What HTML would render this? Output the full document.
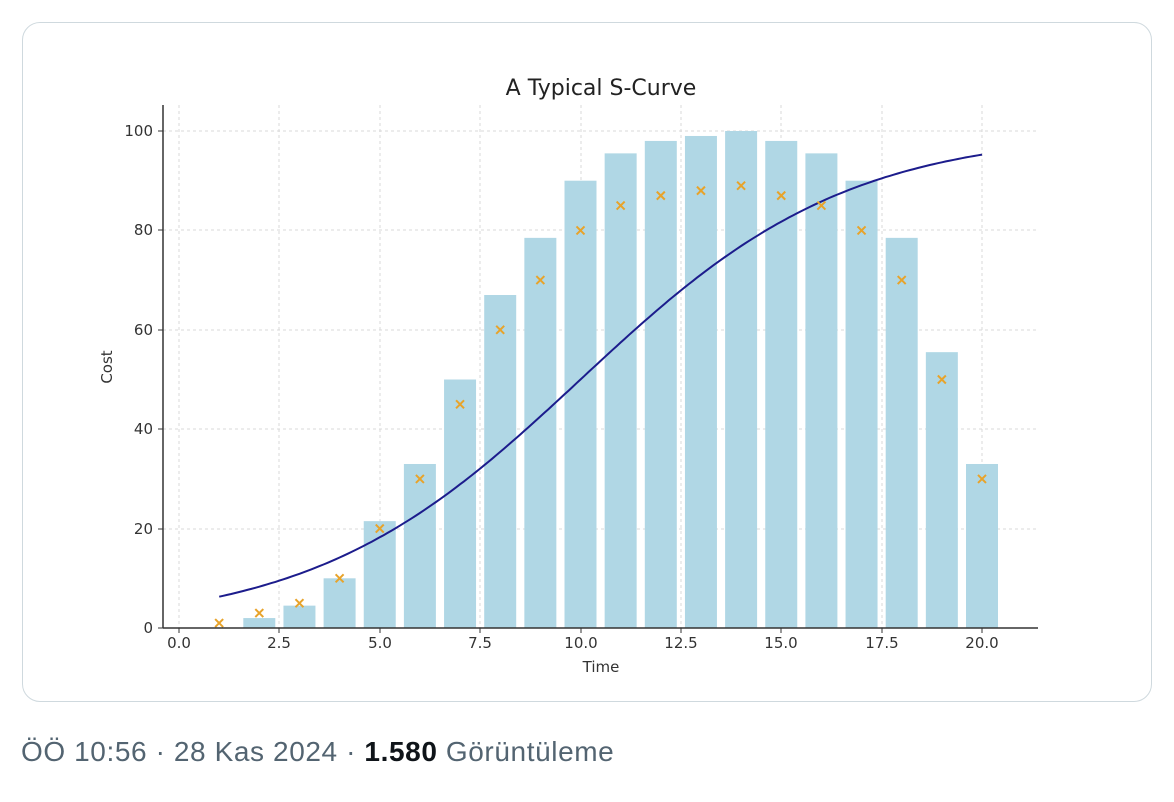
<!DOCTYPE html>
<html><head><meta charset="utf-8"><style>
body{margin:0;background:#fff;width:1174px;height:802px;overflow:hidden;font-family:"Liberation Sans",sans-serif}
.card{position:absolute;left:22px;top:22px;width:1130px;height:680px;border:1px solid #cfd9de;border-radius:18px;box-sizing:border-box}
.foot{position:absolute;left:21px;top:736px;font-size:28px;color:#536471;letter-spacing:0.6px}
.foot b{color:#0f1419}
</style></head><body>
<div class="card"></div>
<svg style="position:absolute;left:0;top:0" width="1174" height="802" font-family="DejaVu Sans, sans-serif">
<g stroke="#d8d8d8" stroke-dasharray="3,3" stroke-width="1">
<line x1="179" y1="105" x2="179" y2="628"/><line x1="279" y1="105" x2="279" y2="628"/><line x1="380" y1="105" x2="380" y2="628"/><line x1="480" y1="105" x2="480" y2="628"/><line x1="581" y1="105" x2="581" y2="628"/><line x1="681" y1="105" x2="681" y2="628"/><line x1="781" y1="105" x2="781" y2="628"/><line x1="882" y1="105" x2="882" y2="628"/><line x1="982" y1="105" x2="982" y2="628"/>
<line x1="163" y1="131" x2="1038" y2="131"/><line x1="163" y1="230" x2="1038" y2="230"/><line x1="163" y1="330" x2="1038" y2="330"/><line x1="163" y1="429" x2="1038" y2="429"/><line x1="163" y1="529" x2="1038" y2="529"/>
</g>
<g fill="#b0d7e5" id="bars"></g>
<path id="curve" fill="none" stroke="#1c1c8c" stroke-width="2"/>
<g stroke="#e8a32a" stroke-width="2" id="marks"></g>
<line x1="163" y1="628" x2="1038" y2="628" stroke="#333" stroke-width="1.5"/>
<line x1="163" y1="105" x2="163" y2="628" stroke="#333" stroke-width="1.5"/>
<g stroke="#333" stroke-width="1">
<path d="M179 628v5M279 628v5M380 628v5M480 628v5M581 628v5M681 628v5M781 628v5M882 628v5M982 628v5M163 628h-5M163 529h-5M163 429h-5M163 330h-5M163 230h-5M163 131h-5"/>
</g>
<g font-size="15" fill="#333" text-anchor="middle">
<text x="179" y="648">0.0</text><text x="279" y="648">2.5</text><text x="380" y="648">5.0</text><text x="480" y="648">7.5</text><text x="581" y="648">10.0</text><text x="681" y="648">12.5</text><text x="781" y="648">15.0</text><text x="882" y="648">17.5</text><text x="982" y="648">20.0</text>
<text x="601" y="672">Time</text>
</g>
<g font-size="15" fill="#333" text-anchor="end">
<text x="153" y="633">0</text><text x="153" y="534">20</text><text x="153" y="434">40</text><text x="153" y="335">60</text><text x="153" y="235">80</text><text x="153" y="136">100</text>
</g>
<text transform="translate(112,367) rotate(-90)" font-size="15" fill="#333" text-anchor="middle">Cost</text>
<text x="601" y="95" font-size="22" fill="#222" text-anchor="middle">A Typical S-Curve</text>
</svg>
<div class="foot">ÖÖ 10:56 · 28 Kas 2024 · <b>1.580</b> Görüntüleme</div>
<script>
var X=t=>179+t*40.15,Y=v=>628-v*4.97;
var b=[0,2,4.5,10,21.5,33,50,67,78.5,90,95.5,98,99,100,98,95.5,90,78.5,55.5,33];
var m=[1,3,5,10,20,30,45,60,70,80,85,87,88,89,87,85,80,70,50,30];
var ns="http://www.w3.org/2000/svg",bs=document.getElementById('bars'),ms=document.getElementById('marks');
for(var i=0;i<20;i++){var t=i+1;var r=document.createElementNS(ns,'rect');r.setAttribute('x',X(t)-16);r.setAttribute('y',Y(b[i]));r.setAttribute('width',32);r.setAttribute('height',b[i]*4.97);bs.appendChild(r);
var cx=X(t),cy=Y(m[i]);var p=document.createElementNS(ns,'path');p.setAttribute('d','M'+(cx-4)+' '+(cy-4)+'L'+(cx+4)+' '+(cy+4)+'M'+(cx+4)+' '+(cy-4)+'L'+(cx-4)+' '+(cy+4));ms.appendChild(p);}
var d='';for(var t=1;t<=20.001;t+=0.1){var v=100/(1+Math.exp(-0.3*(t-10)));d+=(d?'L':'M')+X(t).toFixed(1)+' '+Y(v).toFixed(1);}
document.getElementById('curve').setAttribute('d',d);
</script>
</body></html>
